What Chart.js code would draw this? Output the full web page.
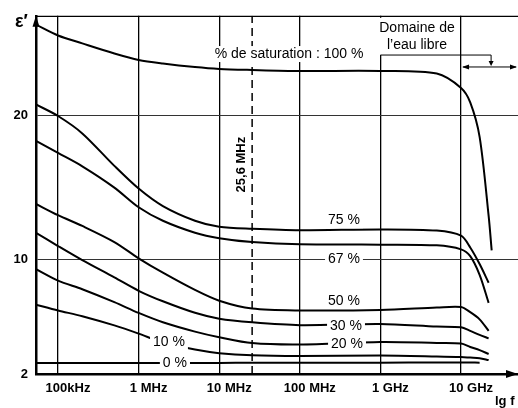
<!DOCTYPE html>
<html lang="fr">
<head>
<meta charset="UTF-8" />
<title>Permittivité en fonction de la fréquence</title>
<script src="https://cdn.jsdelivr.net/npm/chart.js"></script>
<style>
  body { margin: 0; background: #fff; }
  #wrap { width: 518px; height: 408px; position: relative; }
</style>
</head>
<body>
<div id="wrap"><canvas id="graph"></canvas></div>
<script>
  // frequencies (Hz) shared by every curve
  const freqs = [5.33e4, 1e5, 2e5, 5e5, 1e6, 2e6, 5e6, 1e7, 2.56e7, 1e8, 1e9, 5e9, 1e10, 1.3e10, 1.7e10, 2.2e10, 2.4e10];

  // epsilon', one array per saturation
  const sat100 = [26.3, 25.55, 25.0, 24.3, 23.85, 23.6, 23.35, 23.22, 23.15, 23.08, 23.08, 22.9, 21.9, 20.9, 18.5, 13.0, 10.6];
  const sat75 = [20.75, 19.95, 18.74, 16.48, 14.9, 13.68, 12.66, 12.24, 12.1, 12.0, 12.06, 11.98, 11.62, 10.8, 9.65, 8.35, null];
  const sat67 = [18.22, 17.38, 16.45, 14.97, 13.6, 12.66, 11.83, 11.45, 11.18, 11.02, 11.0, 10.95, 10.67, 10.2, 8.9, 6.95, null];
  const sat50 = [13.83, 13.05, 12.3, 11.18, 10.05, 9.05, 7.85, 7.1, 6.55, 6.42, 6.45, 6.62, 6.66, 6.3, 5.8, 5.0, null];
  const sat30 = [11.82, 10.9, 9.92, 8.72, 7.79, 7.06, 6.26, 5.85, 5.6, 5.4, 5.48, 5.3, 5.25, 5.0, 4.72, 4.48, null];
  const sat20 = [9.3, 8.5, 7.9, 7.0, 6.25, 5.6, 4.95, 4.56, 4.15, 4.05, 4.22, 4.16, 4.12, 3.88, 3.66, 3.39, null];
  const sat10 = [6.82, 6.42, 6.02, 5.38, 4.81, 4.19, 3.7, 3.45, 3.3, 3.25, 3.28, 3.22, 3.18, 3.14, 3.1, 2.97, null];
  const sat0 = [2.76, 2.76, 2.76, 2.76, 2.76, 2.76, 2.77, 2.77, 2.78, 2.78, 2.79, 2.8, 2.8, 2.8, 2.79, null, null];

  const xTicks = [1e5, 1e6, 1e7, 1e8, 1e9, 1e10];
  const xTickLabels = ["100kHz", "1 MHz", "10 MHz", "100 MHz", "1 GHz", "10 GHz"];
  const yTicks = [2, 10, 20];
  const markerFreq = 25.6e6;

  const xMin = 5.33e4, xMax = 5.09e10;
  const yMin = 2, yMax = 26.92;

  // curve names written on the chart: [text, frequency, epsilon']
  const curveLabels = [
    ["75 %", 3.53e8, 12.7],
    ["67 %", 3.53e8, 10],
    ["50 %", 3.53e8, 7.09],
    ["30 %", 3.74e8, 5.36],
    ["20 %", 3.85e8, 4.05],
    ["10 %", 2.38e6, 4.19],
    ["0 %", 2.82e6, 2.76],
  ];

  const series = [sat100, sat75, sat67, sat50, sat30, sat20, sat10, sat0];

  const toPoints = (vals) =>
    freqs.map((f, i) => ({ x: f, y: vals[i] })).filter((p) => p.y !== null);

  const datasets = series.map((vals) => ({
    data: toPoints(vals),
    borderColor: "#000",
    borderWidth: 2,
    pointRadius: 0,
    tension: 0.3,
    fill: false,
  }));

  datasets.push({
    data: [{ x: markerFreq, y: yMin }, { x: markerFreq, y: yMax }],
    borderColor: "#000",
    borderWidth: 1.5,
    borderDash: [8, 5],
    pointRadius: 0,
  });

  function textBox(ctx, text, px, py, font, bg) {
    ctx.font = font;
    ctx.textAlign = "center";
    ctx.textBaseline = "middle";
    if (bg) {
      const w = ctx.measureText(text).width + 6;
      ctx.fillStyle = "#fff";
      ctx.fillRect(px - w / 2, py - 8, w, 16);
    }
    ctx.fillStyle = "#000";
    ctx.fillText(text, px, py);
  }

  function arrowHead(ctx, tx, ty, dir, len, half) {
    // dir: unit vector the arrow points to
    const [dx, dy] = dir;
    ctx.beginPath();
    ctx.moveTo(tx, ty);
    ctx.lineTo(tx - dx * len - dy * half, ty - dy * len + dx * half);
    ctx.lineTo(tx - dx * len + dy * half, ty - dy * len - dx * half);
    ctx.closePath();
    ctx.fill();
  }

  const annotations = {
    id: "annotations",
    afterDraw(chart) {
      const { ctx, chartArea: a, scales } = chart;
      const sx = scales.x, sy = scales.y;
      ctx.save();
      ctx.strokeStyle = "#000";
      ctx.fillStyle = "#000";

      // top frame line
      ctx.lineWidth = 1.2;
      ctx.beginPath();
      ctx.moveTo(a.left, a.top + 0.5);
      ctx.lineTo(a.right, a.top + 0.5);
      ctx.stroke();

      // axis arrows
      arrowHead(ctx, a.left, a.top, [0, -1], 11, 3.5);
      arrowHead(ctx, a.right, a.bottom, [1, 0], 12, 4);

      // "free water" bracket
      const g1 = sx.getPixelForValue(1e9);
      const g10 = sx.getPixelForValue(1e10);
      const bx = sx.getPixelForValue(2.36e10);
      const by = sy.getPixelForValue(24.19);
      const ay = sy.getPixelForValue(23.36);
      ctx.fillStyle = "#fff";
      ctx.fillRect(g1 - 4, a.top + 2, g10 - g1 - 2, by - a.top - 2);
      ctx.fillStyle = "#000";
      ctx.lineWidth = 1;
      ctx.beginPath();
      ctx.moveTo(g1, by);
      ctx.lineTo(bx, by);
      ctx.lineTo(bx, ay - 4);
      ctx.stroke();
      arrowHead(ctx, bx, ay - 1, [0, 1], 5, 2.5);
      ctx.beginPath();
      ctx.moveTo(g10 + 2, ay);
      ctx.lineTo(a.right - 2, ay);
      ctx.stroke();
      arrowHead(ctx, g10 + 1, ay, [-1, 0], 7, 2.5);
      arrowHead(ctx, a.right - 1, ay, [1, 0], 7, 2.5);

      const mid = sx.getPixelForValue(2.84e9);
      textBox(ctx, "Domaine de", mid, sy.getPixelForValue(26.06), "14px 'Liberation Sans', Arial", false);
      textBox(ctx, "l\u2019eau libre", mid, sy.getPixelForValue(24.88), "14px 'Liberation Sans', Arial", false);

      textBox(ctx, "% de saturation : 100 %", sx.getPixelForValue(7.35e7), sy.getPixelForValue(24.26),
        "14px 'Liberation Sans', Arial", true);

      curveLabels.forEach(([t, f, v]) => {
        textBox(ctx, t, sx.getPixelForValue(f), sy.getPixelForValue(v), "14px 'Liberation Sans', Arial", true);
      });

      // rotated frequency marker label
      ctx.save();
      ctx.translate(sx.getPixelForValue(1.86e7), sy.getPixelForValue(16.57));
      ctx.rotate(-Math.PI / 2);
      textBox(ctx, "25,6 MHz", 0, 0, "bold 13px 'Liberation Sans', Arial", false);
      ctx.restore();

      // axis names
      ctx.font = "bold 18px 'Liberation Sans', Arial";
      ctx.textAlign = "left";
      ctx.textBaseline = "middle";
      ctx.fillText("\u03b5\u2032", 15, a.top + 6);
      ctx.font = "bold 13px 'Liberation Sans', Arial";
      ctx.fillText("lg f", a.right - 23, a.bottom + 27);

      ctx.restore();
    },
  };

  new Chart(document.querySelector("#graph"), {
    type: "line",
    data: { datasets: datasets },
    options: {
      responsive: true,
      maintainAspectRatio: false,
      animation: false,
      layout: { padding: { top: 14, right: 0, left: 0, bottom: 0 } },
      plugins: { legend: { display: false }, tooltip: { enabled: false } },
      scales: {
        x: {
          type: "logarithmic",
          min: xMin,
          max: xMax,
          afterBuildTicks: (s) => {
            s.ticks = xTicks.map((v) => ({ value: v }));
          },
          afterFit: (s) => {
            s.height = 34;
          },
          ticks: {
            callback: (v, i) => xTickLabels[i],
            color: "#000",
            font: { family: "'Liberation Sans', Arial", size: 13, weight: "bold" },
            padding: 7,
            labelOffset: 10,
            maxRotation: 0,
            autoSkip: false,
          },
          grid: { color: "#000", lineWidth: 1.3, drawTicks: false },
          border: { display: true, color: "#000", width: 2.5 },
        },
        y: {
          type: "linear",
          min: yMin,
          max: yMax,
          afterBuildTicks: (s) => {
            s.ticks = yTicks.map((v) => ({ value: v }));
          },
          afterFit: (s) => {
            s.width = 36;
          },
          ticks: {
            color: "#000",
            font: { family: "'Liberation Sans', Arial", size: 13, weight: "bold" },
            padding: 8,
          },
          grid: {
            color: (c) => (c.tick && c.tick.value === 2 ? "rgba(0,0,0,0)" : "#333"),
            lineWidth: 1,
            drawTicks: false,
          },
          border: { display: true, color: "#000", width: 2.5 },
        },
      },
    },
    plugins: [annotations],
  });
</script>
</body>
</html>
